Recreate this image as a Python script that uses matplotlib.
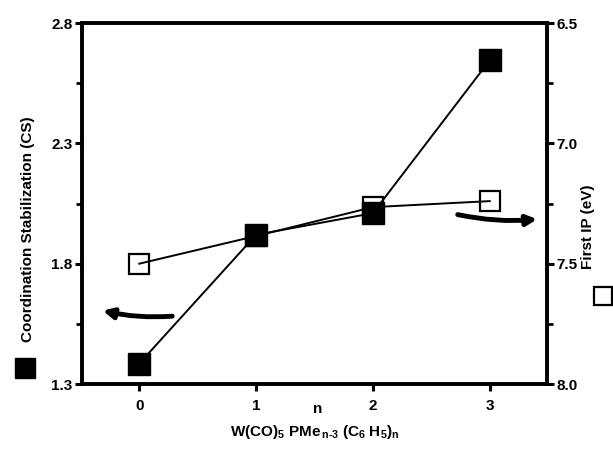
import matplotlib.pyplot as plt

n = [0, 1, 2, 3]
cs = [1.385, 1.92, 2.01, 2.645]
ip = [7.50, 7.385, 7.265, 7.24]

left_ticks = [1.3, 1.8, 2.3, 2.8]
right_ticks = [6.5, 7.0, 7.5, 8.0]

plt.rcParams['font.family'] = ['Liberation Sans', 'DejaVu Sans']
plt.rcParams['font.weight'] = 'bold'
plt.rcParams['mathtext.fontset'] = 'custom'
plt.rcParams['mathtext.rm'] = 'Liberation Sans:bold'
plt.rcParams['mathtext.default'] = 'rm'

fig = plt.figure(figsize=(6.13, 4.67), dpi=100)
ax = fig.add_axes([0.1338, 0.1777, 0.7585, 0.773])
ax2 = ax.twinx()

# filled squares on the CS axis, drawn above the IP axis
ax.set_zorder(ax2.get_zorder() + 1)
ax.patch.set_visible(False)

ax2.plot(n, ip, color='black', lw=1.4, marker='s', ms=14, mfc='none',
         mec='black', mew=1.6)
ax.plot(n, cs, color='black', lw=1.4, marker='s', ms=16, mfc='black',
        mec='black')

ax.set_xlim(-0.49, 3.49)
ax.set_ylim(1.3, 2.8)
ax2.set_ylim(8.0, 6.5)

ax.set_xticks(n)
ax.set_yticks(left_ticks)
ax.set_yticks([1.55, 2.05, 2.55], minor=True)
ax2.set_yticks(right_ticks)
ax2.set_yticks([6.75, 7.25, 7.75], minor=True)
ax.set_yticklabels(['%.1f' % t for t in left_ticks])
ax2.set_yticklabels(['%.1f' % t for t in right_ticks])

for a in (ax, ax2):
    for s in a.spines.values():
        s.set_linewidth(2.6)
    a.tick_params(which='major', length=5, width=2.2, labelsize=11, pad=2)
    a.tick_params(which='minor', length=4, width=2.0)
ax.tick_params(axis='x', pad=6)

ax.text(1.53, 1.3 - 0.075, 'n', ha='center', va='top',
        fontsize=11, fontweight='bold')

ax.set_xlabel(r'W(CO)$_5$ PMe$_{\,n\text{-}3}$ (C$_6$ H$_5$)$_n$', fontsize=11,
              fontweight='bold', labelpad=7)

fig.text(0.046, 0.51, 'Coordination Stabilization (CS)', rotation=90,
         ha='center', va='center', fontsize=11, fontweight='bold')
fig.text(0.959, 0.515, 'First IP (eV)', rotation=90, ha='center',
         va='center', fontsize=11, fontweight='bold')

# legend squares beside axis titles
fig.lines.append(plt.Line2D([0.041], [0.212], transform=fig.transFigure,
                            marker='s', ms=14, color='black'))
fig.lines.append(plt.Line2D([0.983], [0.366], transform=fig.transFigure,
                            marker='s', ms=13, mfc='white', mec='black',
                            mew=1.6))

# curved arrows pointing to the axes
ax.annotate('', xy=(100, 157), xycoords='figure pixels',
            xytext=(175, 151), textcoords='figure pixels',
            arrowprops=dict(arrowstyle='-|>,head_length=0.6,head_width=0.3',
                            color='black', lw=3.5,
                            connectionstyle='arc3,rad=-0.08'))
ax.annotate('', xy=(540, 248), xycoords='figure pixels',
            xytext=(455, 253), textcoords='figure pixels',
            arrowprops=dict(arrowstyle='-|>,head_length=0.6,head_width=0.3',
                            color='black', lw=3.5,
                            connectionstyle='arc3,rad=0.08'))

fig.savefig('out.png', dpi=100)
